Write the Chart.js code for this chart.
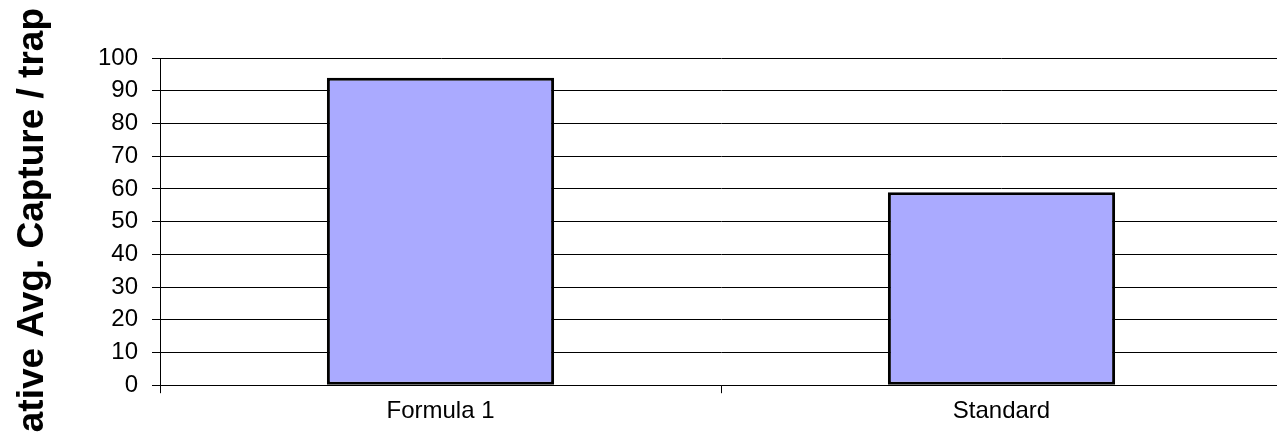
<!DOCTYPE html>
<html>
<head>
<meta charset="utf-8">
<script src="https://cdn.jsdelivr.net/npm/chart.js@4.4.1/dist/chart.umd.min.js"></script>
<style>
  html, body { margin: 0; padding: 0; background: #fff; overflow: hidden; }
  /* plot runs a few px past the right edge of the window, like the original */
  #wrap { width: 1282px; height: 433px; }
</style>
</head>
<body>
<div id="wrap"><canvas id="captureChart"></canvas></div>
<script>
// data
const categories = ['Formula 1', 'Standard'];
const avgCapture = [94, 59];
const yTitle = 'Cumulative Avg. Capture / trap';
const yMin = 0;
const yMax = 100;
const yStep = 10;

Chart.defaults.font.family = 'Arial, "Liberation Sans", sans-serif';
Chart.defaults.color = '#000';

// the y title is bigger than the canvas and gets cut at both ends, so draw it by hand
const yTitlePlugin = {
    id: 'yTitle',
    afterDraw(chart) {
        const c = chart.ctx;
        c.save();
        c.translate(43, 8);
        c.rotate(-Math.PI / 2);
        c.font = 'bold 37px Arial, "Liberation Sans", sans-serif';
        c.fillStyle = '#000';
        c.textAlign = 'right';
        c.textBaseline = 'alphabetic';
        c.fillText(yTitle, 0, 0);
        c.restore();
    }
};

const ctx = document.getElementById('captureChart').getContext('2d');
const captureChart = new Chart(ctx, {
    type: 'bar',
    data: {
        labels: categories,
        datasets: [{
            data: avgCapture,
            backgroundColor: '#AAAAFF',
            borderColor: '#000',
            borderWidth: 3,
            borderSkipped: false,
            barPercentage: 0.405,
            categoryPercentage: 1
        }]
    },
    options: {
        responsive: true,
        maintainAspectRatio: false,
        animation: false,
        layout: { padding: { top: 58, right: 0, bottom: 3, left: 0 } },
        plugins: {
            legend: { display: false },
            tooltip: { enabled: false }
        },
        scales: {
            x: {
                offset: true,
                grid: {
                    offset: true,
                    drawOnChartArea: false,
                    drawTicks: true,
                    tickLength: 8,
                    color: '#000'
                },
                border: { color: '#000' },
                ticks: { font: { size: 24 }, padding: 4 }
            },
            y: {
                min: yMin,
                max: yMax,
                grid: { color: '#000', tickLength: 8 },
                border: { color: '#000' },
                ticks: { stepSize: yStep, font: { size: 24 }, padding: 14 },
                afterFit: function (scale) { scale.width = 160; }
            }
        }
    },
    plugins: [yTitlePlugin]
});
</script>
</body>
</html>
